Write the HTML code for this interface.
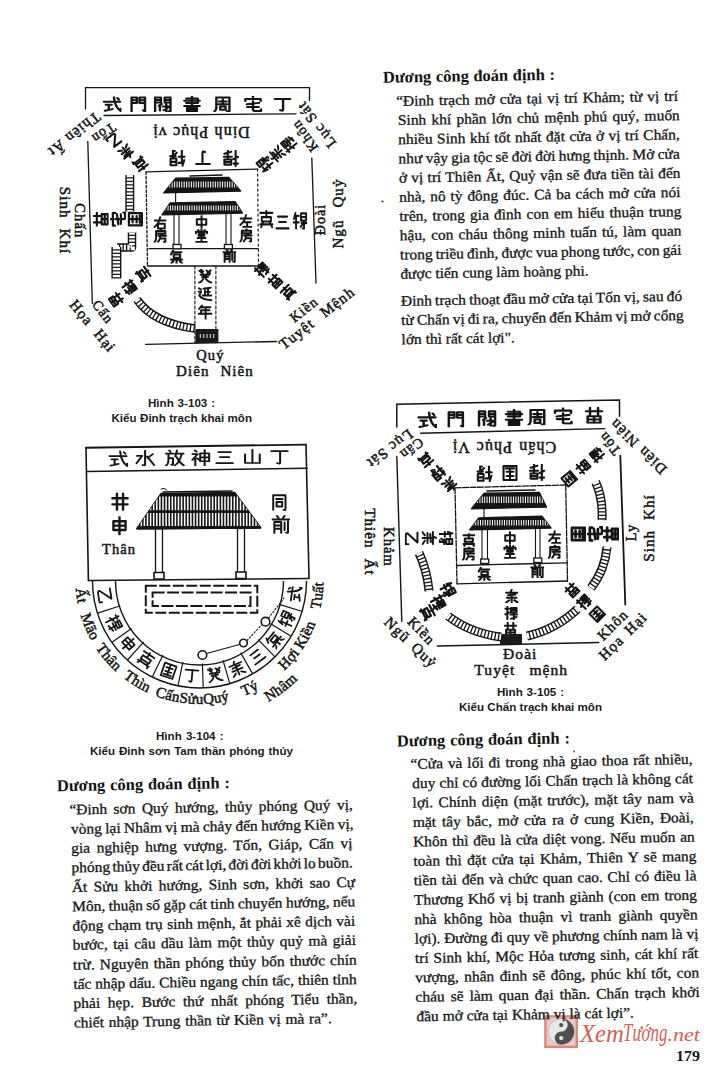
<!DOCTYPE html>
<html><head><meta charset="utf-8"><title>page 179</title>
<style>
html,body{margin:0;padding:0;background:#fff}
body{width:711px;height:1067px;position:relative;overflow:hidden;font-family:"Liberation Serif",serif}
svg{position:absolute;left:0;top:0}
</style></head><body>
<svg width="711" height="1067" viewBox="0 0 711 1067">
<defs>
<style>
.g{fill:none;stroke:#151515;stroke-linecap:round;stroke-linejoin:round}
.lab{font-family:"Liberation Serif",serif;fill:#151515;stroke:#151515;stroke-width:0.5;letter-spacing:1.1px}
</style>
<symbol id="c_ding" viewBox="0 0 10 10" preserveAspectRatio="none"><path class="g" d="M1,1.8H9M5.3,1.8V8.6Q5.3,9.6 3.8,8.8"/></symbol>
<symbol id="c_zhai" viewBox="0 0 10 10" preserveAspectRatio="none"><path class="g" d="M5,0.3V1.5M1,3.2V1.8H9V3.2M1.8,5.2L8.2,4.3M2,6.8H8M5,3.3V8.5Q5,9.4 6,9.4H9.2V8.3"/></symbol>
<symbol id="c_zhou" viewBox="0 0 10 10" preserveAspectRatio="none"><path class="g" d="M1.8,1V7.5Q1.8,9 0.8,9.6M1.8,1H8.6V9.6H7.4M3.2,3.4H7.2M5.2,2.2V5.2M3,5.2H7.4M3.8,6.6H6.6V8.6H3.8Z"/></symbol>
<symbol id="c_shu" viewBox="0 0 10 10" preserveAspectRatio="none"><path class="g" d="M2,1.6H8V4.4H2M1,3H9M2,4.4H8M5,0.5V6.3M1,6.3H9M2.5,7.2H7.5V9.5H2.5ZM2.5,8.3H7.5"/></symbol>
<symbol id="c_fa" viewBox="0 0 10 10" preserveAspectRatio="none"><path class="g" d="M1,9.5V1H4V4H1M1,2.5H4M9,9.5V1H6V4H9M6,2.5H9M9,9.5H8M3,6L4.5,5M3.5,5.6V9M5,6.5H8M6.8,5V9.5M5.5,8.8L8,7"/></symbol>
<symbol id="c_men" viewBox="0 0 10 10" preserveAspectRatio="none"><path class="g" d="M1.5,9.5V1H4.3V4.3H1.5M1.5,2.6H4.3M8.5,9.5V1H5.7V4.3H8.5M5.7,2.6H8.5M8.5,9.5Q8,9.5 7.6,9"/></symbol>
<symbol id="c_shi" viewBox="0 0 10 10" preserveAspectRatio="none"><path class="g" d="M0.8,3.6H9.2M6,0.8Q6.5,7 9.5,9.4V8M7.8,1.3L8.6,2.2M1.8,5.5H4.8M3.3,5.5V8.5M1.3,9.2L5.2,8.2"/></symbol>
<symbol id="c_san" viewBox="0 0 10 10" preserveAspectRatio="none"><path class="g" d="M2,2H8M2.8,5H7.2M1,8.5H9"/></symbol>
<symbol id="c_shan" viewBox="0 0 10 10" preserveAspectRatio="none"><path class="g" d="M5,0.8V8.6M1.4,3.5V8.6H8.6V3.5"/></symbol>
<symbol id="c_shui" viewBox="0 0 10 10" preserveAspectRatio="none"><path class="g" d="M5,0.6V8.8Q5,9.6 3.8,9M1,3.6H3.6L0.8,8M8.8,2.6L6.2,4.8M6,4L9.4,9"/></symbol>
<symbol id="c_shen" viewBox="0 0 10 10" preserveAspectRatio="none"><path class="g" d="M2,0.8L2.8,1.6M0.8,3H3.4L0.8,6.4M2.2,4.6V9.6M3.2,5.5L3.8,6.2M4.6,2.6H9V7.2H4.6ZM4.6,4.9H9M6.8,0.6V9.8"/></symbol>
<symbol id="c_fang" viewBox="0 0 10 10" preserveAspectRatio="none"><path class="g" d="M2.3,0.6L3,1.5M0.8,2.6H4.6M2,2.6V5.5Q2,9 0.7,9.5M2,5.2H4.2V8.6Q4.2,9.4 3.4,9M6.2,0.6L5.3,4.2M5.6,2.6H9.4M8.5,2.6Q7.5,8 5,9.6M6,4.6Q7.5,8 9.6,9.5"/></symbol>
<symbol id="c_jing" viewBox="0 0 10 10" preserveAspectRatio="none"><path class="g" d="M1,3.4H9M1,6.6H9M3.4,1V9.6M6.6,1V9.6"/></symbol>
<symbol id="c_shen2" viewBox="0 0 10 10" preserveAspectRatio="none"><path class="g" d="M1.8,2.6H8.2V7.2H1.8ZM1.8,4.9H8.2M5,0.4V9.8"/></symbol>
<symbol id="c_tong" viewBox="0 0 10 10" preserveAspectRatio="none"><path class="g" d="M1.5,9.6V1.2H8.5V9.6H7.4M3.2,3.3H6.8M3.4,5H6.6V7.6H3.4Z"/></symbol>
<symbol id="c_qian" viewBox="0 0 10 10" preserveAspectRatio="none"><path class="g" d="M3,0.6L3.8,1.6M7,0.6L6.2,1.6M0.6,2.5H9.4M1.6,3.8H5.2V9.6M1.6,3.8V9.6M1.6,5.6H5.2M1.6,7.3H5.2M7,4V8M8.8,3.5V9.3Q8.8,9.8 7.8,9.4"/></symbol>
<symbol id="c_zhong" viewBox="0 0 10 10" preserveAspectRatio="none"><path class="g" d="M1.5,3H8.5V7H1.5ZM5,0.5V9.8"/></symbol>
<symbol id="c_tang" viewBox="0 0 10 10" preserveAspectRatio="none"><path class="g" d="M5,0.4V1.5M2.6,0.9L3.4,1.8M7.4,0.9L6.6,1.8M1,3.2V2.1H9V3.2M3,3.5H7V5H3ZM2.2,6.6H7.8M5,5.2V9.2M1.2,9.4H8.8"/></symbol>
<symbol id="c_fang2" viewBox="0 0 10 10" preserveAspectRatio="none"><path class="g" d="M5,0.4L5.6,1.2M1.8,1.6H8.4V3.4H1.8M1.8,1.6V6.5Q1.8,8.5 0.6,9.6M3.4,5H8.8M5.5,3.6L6.6,4.6M4.6,5V7H8.4V9.2Q8.4,9.8 7.4,9.4M4.6,7L3.2,9.4"/></symbol>
<symbol id="c_you" viewBox="0 0 10 10" preserveAspectRatio="none"><path class="g" d="M1,3.2H9M5,0.6Q4.5,5 0.8,8M3.4,5.6H8.4V9.2H3.4Z"/></symbol>
<symbol id="c_zuo" viewBox="0 0 10 10" preserveAspectRatio="none"><path class="g" d="M1,3.2H9M5,0.6Q4.5,5 0.8,8M3.4,6H8.4M5.9,6V9.2M3,9.4H9"/></symbol>
<symbol id="c_gui" viewBox="0 0 10 10" preserveAspectRatio="none"><path class="g" d="M1.2,1.5L3.4,3.2M2.4,0.8L3.8,2M8.8,1.2L6.6,3.2M6,1.4L8.4,3.2M2,4.2H8M3,5.6H7M4.4,4.4Q4.4,8 1,9.6M5.6,4.4V7Q6.5,8.5 9.4,9.5"/></symbol>
<symbol id="c_yan" viewBox="0 0 10 10" preserveAspectRatio="none"><path class="g" d="M1,1.2L2.4,2M0.6,3.4H2.4L1.2,6Q2.5,8.5 9.4,9.2M4,1.4L8.8,0.8M5,1.2V5.8M5,3.6H8.2M3.4,6H9.2M7,1.4V6"/></symbol>
<symbol id="c_nian" viewBox="0 0 10 10" preserveAspectRatio="none"><path class="g" d="M3,0.6L1,3M2.4,1.8H8.6M2.8,3.8H8M2.4,3.8V6.4M0.8,6.2H9.4M5.4,1.8V9.8"/></symbol>
<symbol id="c_yi" viewBox="0 0 10 10" preserveAspectRatio="none"><path class="g" d="M1.5,1.5H8L2,8Q1.5,9.3 4,9.3H9.2V7.6"/></symbol>
<symbol id="gA" viewBox="0 0 10 10" preserveAspectRatio="none"><path class="g" d="M1,2H3.6M2.4,0.6V9.5M1,6L3.8,4.6M5,1.4H9V4.4H5ZM5,2.9H9M4.6,6H9.4M7,4.4V9.6M5,9L9,7.8"/></symbol>
<symbol id="gB" viewBox="0 0 10 10" preserveAspectRatio="none"><path class="g" d="M1,1.6H9M5,0.4V4M2,4H8V6.4H2ZM1,8H9M3,6.4L1.6,9.6M7,6.4L8.8,9.6"/></symbol>
<symbol id="gC" viewBox="0 0 10 10" preserveAspectRatio="none"><path class="g" d="M1.2,1.2H8.8V9.4H1.2ZM3,3.5H7M5,2V7.8M3,6H7M2.6,8H7.4"/></symbol>
<symbol id="gD" viewBox="0 0 10 10" preserveAspectRatio="none"><path class="g" d="M2,0.8L1,4M1.6,2.4H4.2M2.4,2.4V9.6M0.8,6H4.2M5.6,1H9V5H5.6ZM5.6,3H9M6,6.4H9.2M7.6,5V9.6Q7.6,9.8 6.6,9.4M5.4,8.4L6.6,7.2"/></symbol>
<symbol id="gE" viewBox="0 0 10 10" preserveAspectRatio="none"><path class="g" d="M1,2.6H9M3,0.6V4.6M7,0.6V4.6M1.8,5.6H8.2V9.4H1.8ZM1.8,7.5H8.2M5,5.6V9.4"/></symbol>
<symbol id="gF" viewBox="0 0 10 10" preserveAspectRatio="none"><path class="g" d="M5,0.4L4,2.6M1,2.6H9M2.4,4.4L7.6,4M1.6,6.2H8.4M5,2.6V9.6M3.2,8L1,9.6M6.8,8L9.2,9.6"/></symbol>
<symbol id="gG" viewBox="0 0 10 10" preserveAspectRatio="none"><path class="g" d="M1,1.5H5M3,0.5V4M1,4H5M1.5,5.5H4.5V9H1.5ZM6,1V9.5M6,3H9M6,6H9.2M9,1V9.5"/></symbol>
<symbol id="gH" viewBox="0 0 10 10" preserveAspectRatio="none"><path class="g" d="M2.5,0.8L1,3.5M2,2H8.5M3,3.6H7.5V6H3ZM1,7.2H9M5,6V9.8M2.6,8.5L1.2,9.8M7.4,8.5L9,9.8"/></symbol>
<pattern id="hatchV" patternUnits="userSpaceOnUse" width="2.6" height="4"><rect width="2.6" height="4" fill="#1a1a1a"/><rect x="0.9" y="0" width="0.9" height="4" fill="#fff"/></pattern>
</defs>
<g id="d1">
<path d="M85.5,109 V87.6 H309.5 V100.5" fill="none" stroke="#151515" stroke-width="1.3" stroke-linecap="round"/>
<path d="M104,115.5 L296,113.8" fill="none" stroke="#151515" stroke-width="1.3" stroke-linecap="round"/>
<use href="#c_shi" x="102.4" y="96.0" width="19.2" height="16" stroke-width="1.25"/>
<use href="#c_men" x="128.7" y="96.0" width="19.2" height="16" stroke-width="1.25"/>
<use href="#c_fa" x="153.2" y="96.0" width="19.2" height="16" stroke-width="1.25"/>
<use href="#c_shu" x="182.4" y="96.0" width="19.2" height="16" stroke-width="1.25"/>
<use href="#c_zhou" x="212.9" y="96.0" width="19.2" height="16" stroke-width="1.25"/>
<use href="#c_zhai" x="243.4" y="96.0" width="19.2" height="16" stroke-width="1.25"/>
<use href="#c_ding" x="272.9" y="96.0" width="19.2" height="16" stroke-width="1.25"/>
<text class="lab" x="201.0" y="127.3" text-anchor="middle" transform="rotate(180 201.0 127.3)" style="font-size:16px">Dinh Phục vị</text>
<use href="#gA" x="222.7" y="150.0" width="17" height="17" transform="rotate(180 231.2 158.5)" stroke-width="1.24"/>
<use href="#c_ding" x="194.5" y="150.0" width="17" height="17" transform="rotate(180 203 158.5)" stroke-width="1.24"/>
<use href="#gD" x="168.9" y="150.0" width="17" height="17" transform="rotate(180 177.4 158.5)" stroke-width="1.24"/>
<path d="M87.8,141.5 L92.3,303.4" fill="none" stroke="#151515" stroke-width="1.3" stroke-linecap="round"/>
<path d="M311.8,158 L316,283" fill="none" stroke="#151515" stroke-width="1.3" stroke-linecap="round"/>
<path d="M145.5,344.3 L276.5,341.5" fill="none" stroke="#151515" stroke-width="1.3" stroke-linecap="round"/>
<path d="M146,171.9 L257.6,169.1" fill="none" stroke="#151515" stroke-width="1.3" stroke-linecap="round"/>
<path d="M257.6,169.1 L258.5,266" fill="none" stroke="#151515" stroke-width="1.2" stroke-dasharray="2 3" stroke-linecap="round"/>
<path d="M146,171.9 L147.5,266" fill="none" stroke="#151515" stroke-width="1.3" stroke-dasharray="2.5 2" stroke-linecap="round"/>
<path d="M149,248.7 H258" fill="none" stroke="#151515" stroke-width="1.3" stroke-linecap="round"/>
<path d="M147.3,266 H258" fill="none" stroke="#151515" stroke-width="1.3" stroke-linecap="round"/>
<clipPath id="rc1"><polygon points="175.7,178.3 228.7,177.4 240.6,191 163.8,192.9"/></clipPath>
<polygon points="175.7,178.3 228.7,177.4 240.6,191 163.8,192.9" fill="#151515" stroke="#151515" stroke-width="1.4" stroke-linejoin="round"/>
<path d="M165.0,181.5V187.5M167.4,181.5V187.5M169.8,181.5V187.5M172.2,181.5V187.5M174.6,181.5V187.5M177.0,181.5V187.5M179.4,181.5V187.5M181.8,181.5V187.5M184.2,181.5V187.5M186.6,181.5V187.5M189.0,181.5V187.5M191.4,181.5V187.5M193.8,181.5V187.5M196.2,181.5V187.5M198.6,181.5V187.5M201.0,181.5V187.5M203.4,181.5V187.5M205.8,181.5V187.5M208.2,181.5V187.5M210.6,181.5V187.5M213.0,181.5V187.5M215.4,181.5V187.5M217.8,181.5V187.5M220.2,181.5V187.5M222.6,181.5V187.5M225.0,181.5V187.5M227.4,181.5V187.5M229.8,181.5V187.5M232.2,181.5V187.5M234.6,181.5V187.5M237.0,181.5V187.5M239.4,181.5V187.5" stroke="#fff" stroke-width="1.0" clip-path="url(#rc1)"/>
<clipPath id="rc2"><polygon points="170.2,203 235,201.7 242.4,213 162,214.9"/></clipPath>
<polygon points="170.2,203 235,201.7 242.4,213 162,214.9" fill="#151515" stroke="#151515" stroke-width="1.4" stroke-linejoin="round"/>
<path d="M163.2,205.5V210.5M165.6,205.5V210.5M168.0,205.5V210.5M170.4,205.5V210.5M172.8,205.5V210.5M175.2,205.5V210.5M177.6,205.5V210.5M180.0,205.5V210.5M182.4,205.5V210.5M184.8,205.5V210.5M187.2,205.5V210.5M189.6,205.5V210.5M192.0,205.5V210.5M194.4,205.5V210.5M196.8,205.5V210.5M199.2,205.5V210.5M201.6,205.5V210.5M204.0,205.5V210.5M206.4,205.5V210.5M208.8,205.5V210.5M211.2,205.5V210.5M213.6,205.5V210.5M216.0,205.5V210.5M218.4,205.5V210.5M220.8,205.5V210.5M223.2,205.5V210.5M225.6,205.5V210.5M228.0,205.5V210.5M230.4,205.5V210.5M232.8,205.5V210.5M235.2,205.5V210.5M237.6,205.5V210.5M240.0,205.5V210.5" stroke="#fff" stroke-width="1.0" clip-path="url(#rc2)"/>
<path d="M175.6,193 V203" fill="none" stroke="#151515" stroke-width="1.2" stroke-dasharray="2 1" stroke-linecap="round"/>
<path d="M190,176 L222,175" fill="none" stroke="#151515" stroke-width="1.5" stroke-linecap="round"/>
<path d="M174,215 V247 M179,215 V247" fill="none" stroke="#151515" stroke-width="1.1" stroke-linecap="round"/>
<path d="M226,214 V247 M231,214 V247" fill="none" stroke="#151515" stroke-width="1.1" stroke-linecap="round"/>
<rect x="173" y="244.5" width="8" height="4.3" fill="#fff" stroke="#151515" stroke-width="1.3"/><rect x="224.4" y="244.5" width="8" height="4.3" fill="#fff" stroke="#151515" stroke-width="1.3"/>
<use href="#c_you" x="153.4" y="216.2" width="13.5" height="13.5" stroke-width="1.48"/>
<use href="#c_fang2" x="153.6" y="228.8" width="14" height="14" stroke-width="1.43"/>
<use href="#c_zhong" x="194.8" y="215.2" width="13.5" height="13.5" stroke-width="1.48"/>
<use href="#c_tang" x="194.5" y="228.8" width="14" height="14" stroke-width="1.43"/>
<use href="#c_zuo" x="239.2" y="214.2" width="13.5" height="13.5" stroke-width="1.48"/>
<use href="#c_fang2" x="239.3" y="228.4" width="14" height="14" stroke-width="1.43"/>
<use href="#gH" x="169.6" y="249.5" width="14" height="14" stroke-width="1.50"/>
<use href="#c_qian" x="222.4" y="248.7" width="14" height="14" stroke-width="1.43"/>
<path d="M194.9,266 V343" fill="none" stroke="#151515" stroke-width="1.1" stroke-dasharray="3 2" stroke-linecap="round"/>
<path d="M215.9,266 V343" fill="none" stroke="#151515" stroke-width="1.1" stroke-dasharray="3 2" stroke-linecap="round"/>
<use href="#c_gui" x="197.5" y="268.5" width="15" height="15" stroke-width="1.27"/>
<use href="#c_yan" x="197.5" y="286.5" width="15" height="15" stroke-width="1.27"/>
<use href="#c_nian" x="197.5" y="304.5" width="15" height="15" stroke-width="1.27"/>
<rect x="195.4" y="329" width="23" height="14" fill="#1a1a1a"/>
<path d="M200.3,334.0v4M203.7,334.0v4M207.0,334.0v4M210.3,334.0v4M213.7,334.0v4" stroke="#fff" stroke-width="0.9" fill="none"/>
<use href="#c_yi" x="107.5" y="133.5" width="14" height="14" transform="rotate(142 114.5 140.5)" stroke-width="1.50"/>
<use href="#gF" x="119.5" y="145.5" width="14" height="14" transform="rotate(142 126.5 152.5)" stroke-width="1.50"/>
<use href="#gB" x="133.5" y="157.0" width="14" height="14" transform="rotate(142 140.5 164)" stroke-width="1.50"/>
<text class="lab" x="100.9" y="129.4" text-anchor="middle" transform="rotate(146 100.9 129.4)" style="font-size:14px">Tốn</text>
<text class="lab" x="70.9" y="130.6" text-anchor="middle" transform="rotate(141.5 70.9 130.6)" style="font-size:15px">Thiên Ất</text>
<use href="#gD" x="257.5" y="156.5" width="15" height="15" transform="rotate(-130 265 164)" stroke-width="1.33"/>
<use href="#gF" x="269.1" y="147.0" width="15" height="15" transform="rotate(-130 276.6 154.5)" stroke-width="1.33"/>
<use href="#gA" x="281.5" y="137.0" width="15" height="15" transform="rotate(-130 289 144.5)" stroke-width="1.33"/>
<text class="lab" x="308.3" y="133.0" text-anchor="middle" transform="rotate(-126 308.3 133.0)" style="font-size:14px">Khôn</text>
<text class="lab" x="320.3" y="121.5" text-anchor="middle" transform="rotate(-127.6 320.3 121.5)" style="font-size:15px">Lục Sát</text>
<text class="lab" x="74.6" y="220.8" text-anchor="middle" transform="rotate(90 74.6 220.8)" style="font-size:14.5px">Chấn</text>
<text class="lab" x="59.8" y="220.5" text-anchor="middle" transform="rotate(90 59.8 220.5)" style="font-size:15px;word-spacing:5px">Sinh Khí</text>
<path d="M129.8,175 V211.6" fill="none" stroke="#151515" stroke-width="9" stroke-linejoin="round"/>
<path d="M129.8,175 V211.6" fill="none" stroke="#fff" stroke-width="6.2" stroke-dasharray="2.2 1.3"/>
<use href="#gC" x="127.0" y="211.2" width="16" height="16" transform="rotate(-90 135 219.2)" stroke-width="1.38"/>
<use href="#c_zhai" x="110.0" y="211.2" width="16" height="16" transform="rotate(-90 118 219.2)" stroke-width="1.38"/>
<use href="#gE" x="92.7" y="211.2" width="16" height="16" transform="rotate(-90 100.7 219.2)" stroke-width="1.38"/>
<path d="M132,232.5 L132,247.5 L117,247.5" fill="none" stroke="#151515" stroke-width="8.5" stroke-linejoin="round"/>
<path d="M132,232.5 L132,247.5 L117,247.5" fill="none" stroke="#fff" stroke-width="5.7" stroke-dasharray="2.2 1.3"/>
<path d="M116.4,247 L116.4,278.5" fill="none" stroke="#151515" stroke-width="10" stroke-linejoin="round"/>
<path d="M116.4,247 L116.4,278.5" fill="none" stroke="#fff" stroke-width="7.2" stroke-dasharray="2.2 1.3"/>
<use href="#gB" x="136.3" y="267.0" width="14" height="14" transform="rotate(55 143.3 274)" stroke-width="1.50"/>
<use href="#gA" x="122.5" y="280.0" width="14" height="14" transform="rotate(55 129.5 287)" stroke-width="1.50"/>
<use href="#gE" x="109.3" y="292.5" width="14" height="14" transform="rotate(55 116.3 299.5)" stroke-width="1.50"/>
<path d="M137,299.5 Q153,323 195,328.5" fill="none" stroke="#151515" stroke-width="8.5" stroke-linejoin="round"/>
<path d="M137,299.5 Q153,323 195,328.5" fill="none" stroke="#fff" stroke-width="5.7" stroke-dasharray="2.2 1.3"/>
<text class="lab" x="99.4" y="314.8" text-anchor="middle" transform="rotate(52 99.4 314.8)" style="font-size:14px">Cấn</text>
<text class="lab" x="88.9" y="329.2" text-anchor="middle" transform="rotate(50 88.9 329.2)" style="font-size:15px;word-spacing:5px">Họa Hại</text>
<use href="#gB" x="258.7" y="210.0" width="15.299999999999999" height="18" stroke-width="1.22"/>
<use href="#c_san" x="274.9" y="213.0" width="15.299999999999999" height="18" stroke-width="1.22"/>
<use href="#gD" x="292.4" y="211.6" width="15.299999999999999" height="18" stroke-width="1.22"/>
<text class="lab" x="325.1" y="219.5" text-anchor="middle" transform="rotate(-90 325.1 219.5)" style="font-size:14px">Đoài</text>
<text class="lab" x="342.9" y="213.5" text-anchor="middle" transform="rotate(-90 342.9 213.5)" style="font-size:15px;word-spacing:7px">Ngũ Quỷ</text>
<use href="#gA" x="255.0" y="263.0" width="14" height="14" transform="rotate(-45 262 270)" stroke-width="1.50"/>
<use href="#gE" x="268.0" y="274.0" width="14" height="14" transform="rotate(-45 275 281)" stroke-width="1.50"/>
<use href="#gB" x="281.0" y="285.0" width="14" height="14" transform="rotate(-45 288 292)" stroke-width="1.50"/>
<text class="lab" x="306.9" y="313.0" text-anchor="middle" transform="rotate(-39 306.9 313.0)" style="font-size:14px">Kiền</text>
<text class="lab" x="320.0" y="321.9" text-anchor="middle" transform="rotate(-38 320.0 321.9)" style="font-size:15px;word-spacing:7px">Tuyệt Mệnh</text>
<text class="lab" x="196.3" y="359.5" style="font-size:14.5px">Quý</text>
<text class="lab" x="176" y="376.4" style="font-size:15px;word-spacing:6px">Diên Niên</text>
</g>
<g id="d2">
<path d="M86,447.7 L306,444.6" fill="none" stroke="#151515" stroke-width="1.9" stroke-linecap="round"/>
<path d="M86,447.7 L88.4,580.6" fill="none" stroke="#151515" stroke-width="1.6" stroke-linecap="round"/>
<path d="M306,444.6 L309,578" fill="none" stroke="#151515" stroke-width="1.6" stroke-linecap="round"/>
<path d="M87,471.5 L307,468.3" fill="none" stroke="#151515" stroke-width="1.5" stroke-linecap="round"/>
<path d="M88.4,580.6 L309,578.4" fill="none" stroke="#151515" stroke-width="1.5" stroke-linecap="round"/>
<use href="#c_shi" x="107.9" y="450.0" width="20.4" height="17" stroke-width="1.00"/>
<use href="#c_shui" x="134.9" y="449.7" width="20.4" height="17" stroke-width="1.00"/>
<use href="#c_fang" x="164.4" y="449.3" width="20.4" height="17" stroke-width="1.00"/>
<use href="#c_shen" x="190.8" y="449.0" width="20.4" height="17" stroke-width="1.00"/>
<use href="#c_san" x="214.4" y="448.7" width="20.4" height="17" stroke-width="1.00"/>
<use href="#c_shan" x="242.2" y="448.4" width="20.4" height="17" stroke-width="1.00"/>
<use href="#c_ding" x="269.3" y="448.1" width="20.4" height="17" stroke-width="1.00"/>
<use href="#c_jing" x="110.5" y="491.8" width="19" height="19" stroke-width="1.26"/>
<use href="#c_shen2" x="110.0" y="516.3" width="19" height="19" stroke-width="1.26"/>
<use href="#c_tong" x="270.6" y="493.2" width="17.5" height="17.5" stroke-width="1.14"/>
<use href="#c_qian" x="271.3" y="514.8" width="19" height="19" stroke-width="1.05"/>
<text class="lab" x="102" y="554.3" style="font-size:14.5px">Thân</text>
<clipPath id="rc3"><polygon points="161.1,493.5 234.7,492.4 260.9,527.9 136.7,528.7"/></clipPath>
<polygon points="161.1,493.5 234.7,492.4 260.9,527.9 136.7,528.7" fill="#151515" stroke="#151515" stroke-width="1.4" stroke-linejoin="round"/>
<path d="M138.2,496.5V510.2M141.3,496.5V510.2M144.4,496.5V510.2M147.5,496.5V510.2M150.6,496.5V510.2M153.7,496.5V510.2M156.8,496.5V510.2M159.9,496.5V510.2M163.0,496.5V510.2M166.1,496.5V510.2M169.2,496.5V510.2M172.3,496.5V510.2M175.4,496.5V510.2M178.5,496.5V510.2M181.6,496.5V510.2M184.7,496.5V510.2M187.8,496.5V510.2M190.9,496.5V510.2M194.0,496.5V510.2M197.1,496.5V510.2M200.2,496.5V510.2M203.3,496.5V510.2M206.4,496.5V510.2M209.5,496.5V510.2M212.6,496.5V510.2M215.7,496.5V510.2M218.8,496.5V510.2M221.9,496.5V510.2M225.0,496.5V510.2M228.1,496.5V510.2M231.2,496.5V510.2M234.3,496.5V510.2M237.4,496.5V510.2M240.5,496.5V510.2M243.6,496.5V510.2M246.7,496.5V510.2M249.8,496.5V510.2M252.9,496.5V510.2M256.0,496.5V510.2M259.1,496.5V510.2M138.2,513V526M141.3,513V526M144.4,513V526M147.5,513V526M150.6,513V526M153.7,513V526M156.8,513V526M159.9,513V526M163.0,513V526M166.1,513V526M169.2,513V526M172.3,513V526M175.4,513V526M178.5,513V526M181.6,513V526M184.7,513V526M187.8,513V526M190.9,513V526M194.0,513V526M197.1,513V526M200.2,513V526M203.3,513V526M206.4,513V526M209.5,513V526M212.6,513V526M215.7,513V526M218.8,513V526M221.9,513V526M225.0,513V526M228.1,513V526M231.2,513V526M234.3,513V526M237.4,513V526M240.5,513V526M243.6,513V526M246.7,513V526M249.8,513V526M252.9,513V526M256.0,513V526M259.1,513V526" stroke="#fff" stroke-width="1.5" clip-path="url(#rc3)"/>
<path d="M138,528.5 L260,527.8" fill="none" stroke="#151515" stroke-width="1.8" stroke-linecap="round"/>
<path d="M163,492 L232,491" fill="none" stroke="#151515" stroke-width="1.4" stroke-linecap="round"/>
<path d="M161,489 Q164,487 167,490" fill="none" stroke="#151515" stroke-width="1" stroke-linecap="round"/>
<rect x="155.5" y="529" width="7" height="44" fill="#fff" stroke="#151515" stroke-width="1.3"/>
<rect x="237.5" y="528.5" width="7" height="44" fill="#fff" stroke="#151515" stroke-width="1.3"/>
<path d="M154,572.5 h10 v6.5 h-10z M236,572 h10 v6.5 h-10z" fill="#fff" stroke="#151515" stroke-width="1.6"/>
<rect x="145.8" y="585.7" width="111.5" height="27" fill="none" stroke="#151515" stroke-width="2" stroke-dasharray="11 2.5"/>
<rect x="152.6" y="592.5" width="97.9" height="13.5" fill="none" stroke="#151515" stroke-width="2" stroke-dasharray="12 2.5"/>
<path d="M92.5,581.0 A107.0,107.0 0 0 0 306.5,581.0" fill="none" stroke="#151515" stroke-width="1.4"/>
<path d="M115.5,581.0 A84.0,84.0 0 0 0 283.5,581.0" fill="none" stroke="#151515" stroke-width="1.4"/>
<path d="M119.6,606.0L97.7,613.1M131.1,628.8L112.4,642.1M143.3,642.4L127.9,659.5M162.7,655.5L152.6,676.2M182.8,662.3L178.2,684.9M202.4,663.9L203.2,686.9M223.1,660.6L229.5,682.7M240.9,653.1L252.2,673.1M258.4,639.9L274.5,656.3M271.1,623.9L290.7,635.9M279.8,604.6L301.8,611.3" fill="none" stroke="#151515" stroke-width="1.2" stroke-linecap="round"/>
<use href="#c_yi" x="97.2" y="586.9" width="16" height="16" transform="rotate(81 105.2 594.9)" stroke-width="1.12"/>
<use href="#gA" x="106.2" y="615.0" width="16" height="16" transform="rotate(63.2 114.2 623.0)" stroke-width="1.12"/>
<use href="#c_shen2" x="120.3" y="635.6" width="16" height="16" transform="rotate(48.2 128.3 643.6)" stroke-width="1.12"/>
<use href="#gB" x="138.1" y="651.2" width="16" height="16" transform="rotate(34 146.1 659.2)" stroke-width="1.12"/>
<use href="#gC" x="160.8" y="662.4" width="16" height="16" transform="rotate(18.8 168.8 670.4)" stroke-width="1.12"/>
<use href="#c_ding" x="183.6" y="667.2" width="16" height="16" transform="rotate(4.8 191.6 675.2)" stroke-width="1.12"/>
<use href="#c_gui" x="206.7" y="666.3" width="16" height="16" transform="rotate(-9.2 214.7 674.3)" stroke-width="1.12"/>
<use href="#gF" x="228.7" y="660.0" width="16" height="16" transform="rotate(-22.9 236.7 668.0)" stroke-width="1.12"/>
<use href="#c_san" x="249.0" y="648.3" width="16" height="16" transform="rotate(-37 257.0 656.3)" stroke-width="1.12"/>
<use href="#gH" x="266.2" y="631.5" width="16" height="16" transform="rotate(-51.5 274.2 639.5)" stroke-width="1.12"/>
<use href="#gD" x="278.6" y="611.2" width="16" height="16" transform="rotate(-65.8 286.6 619.2)" stroke-width="1.12"/>
<use href="#c_shi" x="286.0" y="586.1" width="16" height="16" transform="rotate(-81.5 294.0 594.1)" stroke-width="1.12"/>
<path id="arcL" d="M75.5,580.0 A124,124 0 0 0 323.5,580.0" fill="none"/>
<path id="arcL2" d="M59.5,580.0 A140,140 0 0 0 339.5,580.0" fill="none"/>
<text class="lab" style="font-size:15px;letter-spacing:0.2px" text-anchor="middle"><textPath href="#arcL" startOffset="16.2">Ất</textPath></text>
<text class="lab" style="font-size:15px;letter-spacing:0.2px" text-anchor="middle"><textPath href="#arcL" startOffset="49.8">Mão</textPath></text>
<text class="lab" style="font-size:15px;letter-spacing:0.2px" text-anchor="middle"><textPath href="#arcL" startOffset="87.4">Thân</textPath></text>
<text class="lab" style="font-size:15px;letter-spacing:0.2px" text-anchor="middle"><textPath href="#arcL" startOffset="126.8">Thìn</textPath></text>
<text class="lab" style="font-size:15px;letter-spacing:0.2px" text-anchor="middle"><textPath href="#arcL" startOffset="161.4">Cấn</textPath></text>
<text class="lab" style="font-size:15px;letter-spacing:0.2px" text-anchor="middle"><textPath href="#arcL" startOffset="186.3">Sửu</textPath></text>
<text class="lab" style="font-size:15px;letter-spacing:0.2px" text-anchor="middle"><textPath href="#arcL" startOffset="211.9">Quý</textPath></text>
<text class="lab" style="font-size:15px;letter-spacing:0.2px" text-anchor="middle"><textPath href="#arcL" startOffset="248.5">Tý</textPath></text>
<text class="lab" style="font-size:15px;letter-spacing:0.2px" text-anchor="middle"><textPath href="#arcL" startOffset="299.7">Hợi</textPath></text>
<text class="lab" style="font-size:15px;letter-spacing:0.2px" text-anchor="middle"><textPath href="#arcL" startOffset="330.0">Kiền</textPath></text>
<text class="lab" style="font-size:15px;letter-spacing:0.2px" text-anchor="middle"><textPath href="#arcL" startOffset="373.3">Tuất</textPath></text>
<text class="lab" style="font-size:15px;letter-spacing:0.2px" text-anchor="middle"><textPath href="#arcL2" startOffset="310.3">Nhâm</textPath></text>
<g fill="#fff" stroke="#151515" stroke-width="1.6"><circle cx="202.4" cy="655" r="4.3"/><circle cx="243.5" cy="643" r="3.8"/><circle cx="265.5" cy="621.7" r="4.3"/></g>
<path d="M206.5,653.5 L239.5,644.5" fill="none" stroke="#151515" stroke-width="1.2" stroke-linecap="round"/>
<path d="M247,640.5 L261.5,625" fill="none" stroke="#151515" stroke-width="1.1" stroke-dasharray="1.5 2" stroke-linecap="round"/>
<path d="M268.5,618 L284,598" fill="none" stroke="#151515" stroke-width="1.1" stroke-dasharray="1.5 2" stroke-linecap="round"/>
</g>
<g id="d3">
<path d="M396.8,427 V404.2 L619.5,400 V416.2" fill="none" stroke="#151515" stroke-width="1.5" stroke-linecap="round"/>
<path d="M420.7,433.2 L604.9,428.6" fill="none" stroke="#151515" stroke-width="1.4" stroke-linecap="round"/>
<use href="#c_shi" x="417.0" y="411.3" width="20.06" height="17" stroke-width="1.24"/>
<use href="#c_men" x="445.8" y="410.5" width="20.06" height="17" stroke-width="1.24"/>
<use href="#c_fa" x="477.0" y="409.7" width="20.06" height="17" stroke-width="1.24"/>
<use href="#c_shu" x="504.0" y="409.0" width="20.06" height="17" stroke-width="1.24"/>
<use href="#c_zhou" x="527.0" y="408.3" width="20.06" height="17" stroke-width="1.24"/>
<use href="#c_zhai" x="553.0" y="407.6" width="20.06" height="17" stroke-width="1.24"/>
<use href="#gE" x="584.0" y="406.8" width="20.06" height="17" stroke-width="1.24"/>
<text class="lab" x="504.0" y="441.7" text-anchor="middle" transform="rotate(180 504.0 441.7)" style="font-size:16px;word-spacing:1px">Chấn Phục Vị</text>
<use href="#gA" x="528.9" y="464.0" width="17" height="17" transform="rotate(180 537.4 472.5)" stroke-width="1.24"/>
<use href="#gC" x="501.5" y="465.0" width="17" height="17" transform="rotate(180 510 473.5)" stroke-width="1.24"/>
<use href="#gD" x="476.1" y="465.5" width="17" height="17" transform="rotate(180 484.6 474)" stroke-width="1.24"/>
<path d="M396.8,456.4 L401.8,621.3" fill="none" stroke="#151515" stroke-width="1.4" stroke-linecap="round"/>
<path d="M620.3,455.7 L625.3,604.5" fill="none" stroke="#151515" stroke-width="1.8" stroke-linecap="round"/>
<path d="M437.3,646 L598.7,642.5" fill="none" stroke="#151515" stroke-width="1.5" stroke-linecap="round"/>
<path d="M455,487.8 L565.7,485" fill="none" stroke="#151515" stroke-width="1.3" stroke-dasharray="6 1.5" stroke-linecap="round"/>
<path d="M455,487.8 L457,583.8" fill="none" stroke="#151515" stroke-width="1.3" stroke-dasharray="6 1.5" stroke-linecap="round"/>
<path d="M565.7,485 L567.5,581" fill="none" stroke="#151515" stroke-width="1.3" stroke-dasharray="6 1.5" stroke-linecap="round"/>
<path d="M456.5,565.5 L567,562.8" fill="none" stroke="#151515" stroke-width="1.3" stroke-linecap="round"/>
<path d="M457,583.8 L567.5,581" fill="none" stroke="#151515" stroke-width="1.3" stroke-linecap="round"/>
<clipPath id="rc4"><polygon points="484.3,493.3 539.2,492.4 546.5,507 471.5,508.8"/></clipPath>
<polygon points="484.3,493.3 539.2,492.4 546.5,507 471.5,508.8" fill="#151515" stroke="#151515" stroke-width="1.4" stroke-linejoin="round"/>
<path d="M472.7,496.5V503M475.1,496.5V503M477.5,496.5V503M479.9,496.5V503M482.3,496.5V503M484.7,496.5V503M487.1,496.5V503M489.5,496.5V503M491.9,496.5V503M494.3,496.5V503M496.7,496.5V503M499.1,496.5V503M501.5,496.5V503M503.9,496.5V503M506.3,496.5V503M508.7,496.5V503M511.1,496.5V503M513.5,496.5V503M515.9,496.5V503M518.3,496.5V503M520.7,496.5V503M523.1,496.5V503M525.5,496.5V503M527.9,496.5V503M530.3,496.5V503M532.7,496.5V503M535.1,496.5V503M537.5,496.5V503M539.9,496.5V503M542.3,496.5V503M544.7,496.5V503" stroke="#fff" stroke-width="1.0" clip-path="url(#rc4)"/>
<clipPath id="rc5"><polygon points="478.8,518 541.9,516.1 551,528 469.7,529.9"/></clipPath>
<polygon points="478.8,518 541.9,516.1 551,528 469.7,529.9" fill="#151515" stroke="#151515" stroke-width="1.4" stroke-linejoin="round"/>
<path d="M470.9,520V525.5M473.3,520V525.5M475.7,520V525.5M478.1,520V525.5M480.5,520V525.5M482.9,520V525.5M485.3,520V525.5M487.7,520V525.5M490.1,520V525.5M492.5,520V525.5M494.9,520V525.5M497.3,520V525.5M499.7,520V525.5M502.1,520V525.5M504.5,520V525.5M506.9,520V525.5M509.3,520V525.5M511.7,520V525.5M514.1,520V525.5M516.5,520V525.5M518.9,520V525.5M521.3,520V525.5M523.7,520V525.5M526.1,520V525.5M528.5,520V525.5M530.9,520V525.5M533.3,520V525.5M535.7,520V525.5M538.1,520V525.5M540.5,520V525.5M542.9,520V525.5M545.3,520V525.5M547.7,520V525.5M550.1,520V525.5" stroke="#fff" stroke-width="1.0" clip-path="url(#rc5)"/>
<path d="M487,491 L535,490" fill="none" stroke="#151515" stroke-width="1.5" stroke-linecap="round"/>
<path d="M484,509 V518" fill="none" stroke="#151515" stroke-width="1.2" stroke-dasharray="2 1" stroke-linecap="round"/>
<path d="M482,530 V563 M487.5,530 V563" fill="none" stroke="#151515" stroke-width="1.1" stroke-linecap="round"/>
<path d="M535.5,529 V562 M540,529 V562" fill="none" stroke="#151515" stroke-width="1.1" stroke-linecap="round"/>
<rect x="480.7" y="559" width="8" height="4.5" fill="#fff" stroke="#151515" stroke-width="1.3"/><rect x="533.8" y="558" width="8" height="4.5" fill="#fff" stroke="#151515" stroke-width="1.3"/>
<use href="#gB" x="462.1" y="533.2" width="13.5" height="13.5" stroke-width="1.48"/>
<use href="#c_fang2" x="461.8" y="546.6" width="14" height="14" stroke-width="1.43"/>
<use href="#c_zhong" x="503.2" y="531.2" width="13.5" height="13.5" stroke-width="1.48"/>
<use href="#c_tang" x="503.0" y="544.8" width="14" height="14" stroke-width="1.43"/>
<use href="#c_zuo" x="548.0" y="530.2" width="13.5" height="13.5" stroke-width="1.48"/>
<use href="#c_fang2" x="547.7" y="544.8" width="14" height="14" stroke-width="1.43"/>
<use href="#gH" x="477.3" y="566.7" width="14" height="14" stroke-width="1.50"/>
<use href="#c_qian" x="530.3" y="564.0" width="14" height="14" stroke-width="1.43"/>
<use href="#gF" x="504.7" y="589.0" width="14" height="14" stroke-width="1.43"/>
<use href="#gA" x="504.0" y="606.0" width="14" height="14" stroke-width="1.43"/>
<use href="#gE" x="503.5" y="622.0" width="14" height="14" stroke-width="1.43"/>
<rect x="500" y="634" width="22" height="10" fill="#1a1a1a"/>
<path d="M448,616 Q470,633 501,637" fill="none" stroke="#151515" stroke-width="9" stroke-linejoin="round"/>
<path d="M448,616 Q470,633 501,637" fill="none" stroke="#fff" stroke-width="6.2" stroke-dasharray="2.2 1.3"/>
<path d="M527,636 Q555,630 577.5,609" fill="none" stroke="#151515" stroke-width="9" stroke-linejoin="round"/>
<path d="M527,636 Q555,630 577.5,609" fill="none" stroke="#fff" stroke-width="6.2" stroke-dasharray="2.2 1.3"/>
<path d="M419,553 Q427,570 429,591" fill="none" stroke="#151515" stroke-width="9" stroke-linejoin="round"/>
<path d="M419,553 Q427,570 429,591" fill="none" stroke="#fff" stroke-width="6.2" stroke-dasharray="2.2 1.3"/>
<path d="M595.6,482 Q603,498 602,520" fill="none" stroke="#151515" stroke-width="9" stroke-linejoin="round"/>
<path d="M595.6,482 Q603,498 602,520" fill="none" stroke="#fff" stroke-width="6.2" stroke-dasharray="2.2 1.3"/>
<path d="M607,547 Q605,570 591,588" fill="none" stroke="#151515" stroke-width="9" stroke-linejoin="round"/>
<path d="M607,547 Q605,570 591,588" fill="none" stroke="#fff" stroke-width="6.2" stroke-dasharray="2.2 1.3"/>
<use href="#gB" x="419.0" y="453.0" width="14" height="14" transform="rotate(140 426 460)" stroke-width="1.50"/>
<use href="#gD" x="431.0" y="466.0" width="14" height="14" transform="rotate(140 438 473)" stroke-width="1.50"/>
<use href="#gF" x="443.0" y="478.0" width="14" height="14" transform="rotate(140 450 485)" stroke-width="1.50"/>
<use href="#gA" x="590.0" y="448.0" width="14" height="14" transform="rotate(-130 597 455)" stroke-width="1.50"/>
<use href="#gE" x="576.0" y="460.0" width="14" height="14" transform="rotate(-130 583 467)" stroke-width="1.50"/>
<use href="#gC" x="562.0" y="472.0" width="14" height="14" transform="rotate(-130 569 479)" stroke-width="1.50"/>
<use href="#c_yi" x="404.7" y="530.5" width="15" height="15" transform="rotate(90 412.2 538)" stroke-width="1.33"/>
<use href="#gF" x="421.8" y="530.5" width="15" height="15" transform="rotate(90 429.3 538)" stroke-width="1.33"/>
<use href="#gD" x="438.8" y="530.5" width="15" height="15" transform="rotate(90 446.3 538)" stroke-width="1.33"/>
<use href="#gC" x="570.0" y="526.0" width="16" height="16" transform="rotate(-90 578 534)" stroke-width="1.69"/>
<use href="#c_zhai" x="587.0" y="526.0" width="16" height="16" transform="rotate(-90 595 534)" stroke-width="1.69"/>
<use href="#gE" x="603.0" y="526.0" width="16" height="16" transform="rotate(-90 611 534)" stroke-width="1.69"/>
<use href="#gD" x="440.8" y="582.5" width="14.5" height="14.5" transform="rotate(62 448 589.7)" stroke-width="1.52"/>
<use href="#gA" x="430.9" y="595.1" width="14.5" height="14.5" transform="rotate(62 438.2 602.4)" stroke-width="1.52"/>
<use href="#gB" x="420.4" y="605.2" width="14.5" height="14.5" transform="rotate(62 427.6 612.5)" stroke-width="1.52"/>
<use href="#gE" x="565.0" y="583.0" width="14" height="14" transform="rotate(-45 572 590)" stroke-width="1.50"/>
<use href="#gA" x="577.0" y="595.0" width="14" height="14" transform="rotate(-45 584 602)" stroke-width="1.50"/>
<use href="#gC" x="590.0" y="607.0" width="14" height="14" transform="rotate(-45 597 614)" stroke-width="1.50"/>
<text class="lab" x="386.8" y="444.8" text-anchor="middle" transform="rotate(142.8 386.8 444.8)" style="font-size:15px">Lục Sát</text>
<text class="lab" x="408.7" y="445.0" text-anchor="middle" transform="rotate(142.4 408.7 445.0)" style="font-size:14px">Cấn</text>
<text class="lab" x="613.1" y="440.4" text-anchor="middle" transform="rotate(-129.6 613.1 440.4)" style="font-size:14px">Tốn</text>
<text class="lab" x="641.6" y="442.9" text-anchor="middle" transform="rotate(-135.8 641.6 442.9)" style="font-size:15px;word-spacing:1px">Diên Niên</text>
<text class="lab" x="384.2" y="547.0" text-anchor="middle" transform="rotate(90 384.2 547.0)" style="font-size:14.5px">Khảm</text>
<text class="lab" x="364.8" y="542.0" text-anchor="middle" transform="rotate(90 364.8 542.0)" style="font-size:15px;word-spacing:5px">Thiên Ất</text>
<text class="lab" x="636.0" y="532.5" text-anchor="middle" transform="rotate(-90 636.0 532.5)" style="font-size:14.5px">Ly</text>
<text class="lab" x="654.0" y="528.0" text-anchor="middle" transform="rotate(-90 654.0 528.0)" style="font-size:15px;word-spacing:5px">Sinh Khí</text>
<text class="lab" x="418.0" y="634.3" text-anchor="middle" transform="rotate(46.5 418.0 634.3)" style="font-size:14.5px">Kiền</text>
<text class="lab" x="407.3" y="646.1" text-anchor="middle" transform="rotate(43.5 407.3 646.1)" style="font-size:15px;word-spacing:3px">Ngũ Quỷ</text>
<text class="lab" x="616.1" y="628.2" text-anchor="middle" transform="rotate(-45 616.1 628.2)" style="font-size:14.5px">Khôn</text>
<text class="lab" x="626.3" y="639.7" text-anchor="middle" transform="rotate(-45 626.3 639.7)" style="font-size:15px;word-spacing:3px">Họa Hại</text>
<text class="lab" x="503" y="658.6" style="font-size:15.5px">Đoài</text>
<text class="lab" x="474.3" y="675.4" style="font-size:15.5px;word-spacing:9px">Tuyệt mệnh</text>
</g>
<g id="wm">
<rect x="544.2" y="1015.2" width="33.8" height="32.9" fill="#d9897e"/>
<rect x="546.6" y="1017.6" width="29" height="28.1" fill="#ecc9c3"/>
<circle cx="561.2" cy="1031.6" r="13" fill="#e8e8e8" stroke="#b9b9b9" stroke-width="0.8"/>
<path d="M561.2,1018.6 A13,13 0 0 1 561.2,1044.6 A6.5,6.5 0 0 1 561.2,1031.6 A6.5,6.5 0 0 0 561.2,1018.6Z" fill="#4f4f4f"/>
<circle cx="561.2" cy="1025.1" r="2.1" fill="#4f4f4f"/><circle cx="561.2" cy="1038.1" r="2.1" fill="#e8e8e8"/>
<text x="580" y="1041.5" textLength="44" lengthAdjust="spacingAndGlyphs" style="font-family:'Liberation Serif',serif;font-style:italic;font-size:26px" fill="#d35f55">Xem</text>
<text x="623" y="1041" textLength="44.5" lengthAdjust="spacingAndGlyphs" style="font-family:'Liberation Serif',serif;font-style:italic;font-size:26px" fill="#d35f55">Tướng</text>
<text x="667.5" y="1040.5" textLength="32.5" lengthAdjust="spacingAndGlyphs" style="font-family:'Liberation Serif',serif;font-style:italic;font-size:19px" fill="#d35f55">.net</text>
</g>
<circle cx="382.5" cy="201.5" r="1.1" fill="#333"/><circle cx="574" cy="751.5" r="0.9" fill="#444"/>
<text x="676" y="1060.9" textLength="24" lengthAdjust="spacingAndGlyphs" style="font-family:'Liberation Serif',serif;font-size:15px;font-weight:700" fill="#151515">179</text>
<text x="383" y="82.8" transform="rotate(-1.0 383 82.8)" style="font-family:'Liberation Serif', serif;font-size:16.5px;font-weight:700;word-spacing:0.41px" fill="#141414">Dương công đoán định :</text>
<text x="396.2" y="105.8" transform="rotate(-1.0 396.2 105.8) translate(396.2 105.8) scale(1.06 1) translate(-396.2 -105.8)" style="font-family:'Liberation Serif', serif;font-size:14.6px;font-weight:400;word-spacing:0.99px" fill="#141414" stroke="#141414" stroke-width="0.3">“Đinh trạch mở cửa tại vị trí Khảm; từ vị trí</text>
<text x="398.0" y="125.0" transform="rotate(-1.0 398.0 125.0) translate(398.0 125.0) scale(1.06 1) translate(-398.0 -125.0)" style="font-family:'Liberation Serif', serif;font-size:14.6px;font-weight:400;word-spacing:1.23px" fill="#141414" stroke="#141414" stroke-width="0.3">Sinh khí phần lớn chủ mệnh phú quý, muốn</text>
<text x="398.3" y="144.2" transform="rotate(-1.0 398.3 144.2) translate(398.3 144.2) scale(1.06 1) translate(-398.3 -144.2)" style="font-family:'Liberation Serif', serif;font-size:14.6px;font-weight:400;word-spacing:0.57px" fill="#141414" stroke="#141414" stroke-width="0.3">nhiều Sinh khí tốt nhất đặt cửa ở vị trí Chấn,</text>
<text x="398.6" y="163.5" transform="rotate(-1.0 398.6 163.5) translate(398.6 163.5) scale(1.06 1) translate(-398.6 -163.5)" style="font-family:'Liberation Serif', serif;font-size:14.6px;font-weight:400;word-spacing:-0.56px" fill="#141414" stroke="#141414" stroke-width="0.3">như vậy gia tộc sẽ đời đời hưng thịnh. Mở cửa</text>
<text x="398.9" y="182.7" transform="rotate(-1.0 398.9 182.7) translate(398.9 182.7) scale(1.06 1) translate(-398.9 -182.7)" style="font-family:'Liberation Serif', serif;font-size:14.6px;font-weight:400;word-spacing:0.37px" fill="#141414" stroke="#141414" stroke-width="0.3">ở vị trí Thiên Ất, Quỷ vận sẽ đưa tiền tài đến</text>
<text x="399.2" y="201.9" transform="rotate(-1.0 399.2 201.9) translate(399.2 201.9) scale(1.06 1) translate(-399.2 -201.9)" style="font-family:'Liberation Serif', serif;font-size:14.6px;font-weight:400;word-spacing:0.92px" fill="#141414" stroke="#141414" stroke-width="0.3">nhà, nô tỳ đông đúc. Cả ba cách mở cửa nói</text>
<text x="399.5" y="221.1" transform="rotate(-1.0 399.5 221.1) translate(399.5 221.1) scale(1.06 1) translate(-399.5 -221.1)" style="font-family:'Liberation Serif', serif;font-size:14.6px;font-weight:400;word-spacing:1.11px" fill="#141414" stroke="#141414" stroke-width="0.3">trên, trong gia đình con em hiếu thuận trung</text>
<text x="399.8" y="240.3" transform="rotate(-1.0 399.8 240.3) translate(399.8 240.3) scale(1.06 1) translate(-399.8 -240.3)" style="font-family:'Liberation Serif', serif;font-size:14.6px;font-weight:400;word-spacing:1.22px" fill="#141414" stroke="#141414" stroke-width="0.3">hậu, con cháu thông minh tuấn tú, làm quan</text>
<text x="400.1" y="259.6" transform="rotate(-1.0 400.1 259.6) translate(400.1 259.6) scale(1.06 1) translate(-400.1 -259.6)" style="font-family:'Liberation Serif', serif;font-size:14.6px;font-weight:400;word-spacing:-0.79px" fill="#141414" stroke="#141414" stroke-width="0.3">trong triều đình, được vua phong tước, con gái</text>
<text x="400.4" y="278.8" transform="rotate(-1.0 400.4 278.8) translate(400.4 278.8) scale(1.06 1) translate(-400.4 -278.8)" style="font-family:'Liberation Serif', serif;font-size:14.6px;font-weight:400" fill="#141414" stroke="#141414" stroke-width="0.3">được tiến cung làm hoàng phi.</text>
<text x="401.0" y="305.8" transform="rotate(-1.0 401.0 305.8) translate(401.0 305.8) scale(1.06 1) translate(-401.0 -305.8)" style="font-family:'Liberation Serif', serif;font-size:14.6px;font-weight:400;word-spacing:-0.64px" fill="#141414" stroke="#141414" stroke-width="0.3">Đinh trạch thoạt đầu mở cửa tại Tốn vị, sau đó</text>
<text x="401.3" y="325.0" transform="rotate(-1.0 401.3 325.0) translate(401.3 325.0) scale(1.06 1) translate(-401.3 -325.0)" style="font-family:'Liberation Serif', serif;font-size:14.6px;font-weight:400;word-spacing:-0.79px" fill="#141414" stroke="#141414" stroke-width="0.3">từ Chấn vị đi ra, chuyển đến Khảm vị mở cổng</text>
<text x="401.6" y="344.3" transform="rotate(-1.0 401.6 344.3) translate(401.6 344.3) scale(1.06 1) translate(-401.6 -344.3)" style="font-family:'Liberation Serif', serif;font-size:14.6px;font-weight:400" fill="#141414" stroke="#141414" stroke-width="0.3">lớn thì rất cát lợi&quot;.</text>
<text x="57" y="791.2" transform="rotate(-1.0 57 791.2)" style="font-family:'Liberation Serif', serif;font-size:16.5px;font-weight:700;word-spacing:0.66px" fill="#141414">Dương công đoán định :</text>
<text x="69.4" y="814.5" transform="rotate(-1.0 69.4 814.5) translate(69.4 814.5) scale(1.06 1) translate(-69.4 -814.5)" style="font-family:'Liberation Serif', serif;font-size:14.6px;font-weight:400;word-spacing:2.40px" fill="#141414" stroke="#141414" stroke-width="0.3">“Đinh sơn Quý hướng, thủy phóng Quý vị,</text>
<text x="71.0" y="833.8" transform="rotate(-1.0 71.0 833.8) translate(71.0 833.8) scale(1.06 1) translate(-71.0 -833.8)" style="font-family:'Liberation Serif', serif;font-size:14.6px;font-weight:400;word-spacing:-0.46px" fill="#141414" stroke="#141414" stroke-width="0.3">vòng lại Nhâm vị mà chảy đến hướng Kiền vị,</text>
<text x="71.3" y="853.0" transform="rotate(-1.0 71.3 853.0) translate(71.3 853.0) scale(1.06 1) translate(-71.3 -853.0)" style="font-family:'Liberation Serif', serif;font-size:14.6px;font-weight:400;word-spacing:2.51px" fill="#141414" stroke="#141414" stroke-width="0.3">gia nghiệp hưng vượng. Tốn, Giáp, Cấn vị</text>
<text x="71.6" y="872.3" transform="rotate(-1.0 71.6 872.3) translate(71.6 872.3) scale(1.06 1) translate(-71.6 -872.3)" style="font-family:'Liberation Serif', serif;font-size:14.6px;font-weight:400;word-spacing:-1.51px" fill="#141414" stroke="#141414" stroke-width="0.3">phóng thủy đều rất cát lợi, đời đời khởi lo buồn.</text>
<text x="71.9" y="892.0" transform="rotate(-1.0 71.9 892.0) translate(71.9 892.0) scale(1.06 1) translate(-71.9 -892.0)" style="font-family:'Liberation Serif', serif;font-size:14.6px;font-weight:400;word-spacing:2.28px" fill="#141414" stroke="#141414" stroke-width="0.3">Ất Sửu khởi hướng, Sinh sơn, khởi sao Cự</text>
<text x="72.2" y="911.3" transform="rotate(-1.0 72.2 911.3) translate(72.2 911.3) scale(1.06 1) translate(-72.2 -911.3)" style="font-family:'Liberation Serif', serif;font-size:14.6px;font-weight:400;word-spacing:-0.47px" fill="#141414" stroke="#141414" stroke-width="0.3">Môn, thuận số gặp cát tinh chuyển hướng, nếu</text>
<text x="72.5" y="930.7" transform="rotate(-1.0 72.5 930.7) translate(72.5 930.7) scale(1.06 1) translate(-72.5 -930.7)" style="font-family:'Liberation Serif', serif;font-size:14.6px;font-weight:400;word-spacing:0.47px" fill="#141414" stroke="#141414" stroke-width="0.3">động chạm trụ sinh mệnh, ắt phải xê dịch vài</text>
<text x="72.8" y="949.8" transform="rotate(-1.0 72.8 949.8) translate(72.8 949.8) scale(1.06 1) translate(-72.8 -949.8)" style="font-family:'Liberation Serif', serif;font-size:14.6px;font-weight:400;word-spacing:1.49px" fill="#141414" stroke="#141414" stroke-width="0.3">bước, tại câu dầu làm một thủy quỷ mà giải</text>
<text x="73.1" y="969.7" transform="rotate(-1.0 73.1 969.7) translate(73.1 969.7) scale(1.06 1) translate(-73.1 -969.7)" style="font-family:'Liberation Serif', serif;font-size:14.6px;font-weight:400;word-spacing:1.07px" fill="#141414" stroke="#141414" stroke-width="0.3">trừ. Nguyên thần phóng thủy bốn thước chín</text>
<text x="73.4" y="989.0" transform="rotate(-1.0 73.4 989.0) translate(73.4 989.0) scale(1.06 1) translate(-73.4 -989.0)" style="font-family:'Liberation Serif', serif;font-size:14.6px;font-weight:400;word-spacing:-0.00px" fill="#141414" stroke="#141414" stroke-width="0.3">tấc nhập dấu. Chiều ngang chín tấc, thiên tỉnh</text>
<text x="73.6" y="1008.2" transform="rotate(-1.0 73.6 1008.2) translate(73.6 1008.2) scale(1.06 1) translate(-73.6 -1008.2)" style="font-family:'Liberation Serif', serif;font-size:14.6px;font-weight:400;word-spacing:3.56px" fill="#141414" stroke="#141414" stroke-width="0.3">phải hẹp. Bước thứ nhất phóng Tiểu thần,</text>
<text x="73.9" y="1027.6" transform="rotate(-1.0 73.9 1027.6) translate(73.9 1027.6) scale(1.06 1) translate(-73.9 -1027.6)" style="font-family:'Liberation Serif', serif;font-size:14.6px;font-weight:400;word-spacing:0.82px" fill="#141414" stroke="#141414" stroke-width="0.3">chiết nhập Trung thần từ Kiền vị mà ra”.</text>
<text x="397" y="746.4" transform="rotate(-1.0 397 746.4)" style="font-family:'Liberation Serif', serif;font-size:16.5px;font-weight:700;word-spacing:0.66px" fill="#141414">Dương công đoán định :</text>
<text x="410.6" y="768.8" transform="rotate(-1.0 410.6 768.8) translate(410.6 768.8) scale(1.06 1) translate(-410.6 -768.8)" style="font-family:'Liberation Serif', serif;font-size:14.6px;font-weight:400;word-spacing:0.96px" fill="#141414" stroke="#141414" stroke-width="0.3">“Cửa và lối đi trong nhà giao thoa rất nhiều,</text>
<text x="412.3" y="788.2" transform="rotate(-1.0 412.3 788.2) translate(412.3 788.2) scale(1.06 1) translate(-412.3 -788.2)" style="font-family:'Liberation Serif', serif;font-size:14.6px;font-weight:400;word-spacing:0.20px" fill="#141414" stroke="#141414" stroke-width="0.3">duy chỉ có đường lối Chấn trạch là không cát</text>
<text x="412.6" y="807.6" transform="rotate(-1.0 412.6 807.6) translate(412.6 807.6) scale(1.06 1) translate(-412.6 -807.6)" style="font-family:'Liberation Serif', serif;font-size:14.6px;font-weight:400;word-spacing:1.39px" fill="#141414" stroke="#141414" stroke-width="0.3">lợi. Chính diện (mặt trước), mặt tây nam và</text>
<text x="412.9" y="827.1" transform="rotate(-1.0 412.9 827.1) translate(412.9 827.1) scale(1.06 1) translate(-412.9 -827.1)" style="font-family:'Liberation Serif', serif;font-size:14.6px;font-weight:400;word-spacing:1.93px" fill="#141414" stroke="#141414" stroke-width="0.3">mặt tây bắc, mở cửa ra ở cung Kiền, Đoài,</text>
<text x="413.2" y="846.5" transform="rotate(-1.0 413.2 846.5) translate(413.2 846.5) scale(1.06 1) translate(-413.2 -846.5)" style="font-family:'Liberation Serif', serif;font-size:14.6px;font-weight:400;word-spacing:0.74px" fill="#141414" stroke="#141414" stroke-width="0.3">Khôn thì đều là cửa diệt vong. Nếu muốn an</text>
<text x="413.5" y="865.9" transform="rotate(-1.0 413.5 865.9) translate(413.5 865.9) scale(1.06 1) translate(-413.5 -865.9)" style="font-family:'Liberation Serif', serif;font-size:14.6px;font-weight:400;word-spacing:1.49px" fill="#141414" stroke="#141414" stroke-width="0.3">toàn thì đặt cửa tại Khảm, Thiên Y sẽ mang</text>
<text x="413.8" y="885.3" transform="rotate(-1.0 413.8 885.3) translate(413.8 885.3) scale(1.06 1) translate(-413.8 -885.3)" style="font-family:'Liberation Serif', serif;font-size:14.6px;font-weight:400;word-spacing:0.81px" fill="#141414" stroke="#141414" stroke-width="0.3">tiền tài đến và chức quan cao. Chỉ có điều là</text>
<text x="414.1" y="904.7" transform="rotate(-1.0 414.1 904.7) translate(414.1 904.7) scale(1.06 1) translate(-414.1 -904.7)" style="font-family:'Liberation Serif', serif;font-size:14.6px;font-weight:400;word-spacing:0.83px" fill="#141414" stroke="#141414" stroke-width="0.3">Thương Khố vị bị tranh giành (con em trong</text>
<text x="414.4" y="924.2" transform="rotate(-1.0 414.4 924.2) translate(414.4 924.2) scale(1.06 1) translate(-414.4 -924.2)" style="font-family:'Liberation Serif', serif;font-size:14.6px;font-weight:400;word-spacing:3.05px" fill="#141414" stroke="#141414" stroke-width="0.3">nhà không hòa thuận vì tranh giành quyền</text>
<text x="414.7" y="943.6" transform="rotate(-1.0 414.7 943.6) translate(414.7 943.6) scale(1.06 1) translate(-414.7 -943.6)" style="font-family:'Liberation Serif', serif;font-size:14.6px;font-weight:400;word-spacing:-0.15px" fill="#141414" stroke="#141414" stroke-width="0.3">lợi). Đường đi quy về phương chính nam là vị</text>
<text x="415.0" y="963.0" transform="rotate(-1.0 415.0 963.0) translate(415.0 963.0) scale(1.06 1) translate(-415.0 -963.0)" style="font-family:'Liberation Serif', serif;font-size:14.6px;font-weight:400;word-spacing:0.92px" fill="#141414" stroke="#141414" stroke-width="0.3">trí Sinh khí, Mộc Hỏa tương sinh, cát khí rất</text>
<text x="415.3" y="982.4" transform="rotate(-1.0 415.3 982.4) translate(415.3 982.4) scale(1.06 1) translate(-415.3 -982.4)" style="font-family:'Liberation Serif', serif;font-size:14.6px;font-weight:400;word-spacing:1.39px" fill="#141414" stroke="#141414" stroke-width="0.3">vượng, nhân đinh sẽ đông, phúc khí tốt, con</text>
<text x="415.6" y="1001.8" transform="rotate(-1.0 415.6 1001.8) translate(415.6 1001.8) scale(1.06 1) translate(-415.6 -1001.8)" style="font-family:'Liberation Serif', serif;font-size:14.6px;font-weight:400;word-spacing:2.01px" fill="#141414" stroke="#141414" stroke-width="0.3">cháu sẽ làm quan đại thần. Chấn trạch khởi</text>
<text x="416.5" y="1021.3" transform="rotate(-1.0 416.5 1021.3) translate(416.5 1021.3) scale(1.06 1) translate(-416.5 -1021.3)" style="font-family:'Liberation Serif', serif;font-size:14.6px;font-weight:400" fill="#141414" stroke="#141414" stroke-width="0.3">đầu mở cửa tại Khảm vị là cát lợi”.</text>
<text x="148" y="406.8" style="font-family:'Liberation Sans', sans-serif;font-size:11.6px;font-weight:700;word-spacing:0.64px" fill="#1a1a1a">Hình 3-103 :</text>
<text x="111.5" y="422.4" style="font-family:'Liberation Sans', sans-serif;font-size:11.6px;font-weight:700;word-spacing:0.18px" fill="#1a1a1a">Kiểu Đinh trạch khai môn</text>
<text x="156" y="740.4" style="font-family:'Liberation Sans', sans-serif;font-size:11.6px;font-weight:700;word-spacing:0.94px" fill="#1a1a1a">Hình 3-104 :</text>
<text x="90" y="755.3" style="font-family:'Liberation Sans', sans-serif;font-size:11.6px;font-weight:700;word-spacing:0.61px" fill="#1a1a1a">Kiểu Đinh sơn Tam thần phóng thủy</text>
<text x="497" y="696.1" style="font-family:'Liberation Sans', sans-serif;font-size:11.6px;font-weight:700;word-spacing:0.64px" fill="#1a1a1a">Hình 3-105 :</text>
<text x="459" y="711.2" style="font-family:'Liberation Sans', sans-serif;font-size:11.6px;font-weight:700;word-spacing:-0.00px" fill="#1a1a1a">Kiểu Chấn trạch khai môn</text>
</svg>
</body></html>
